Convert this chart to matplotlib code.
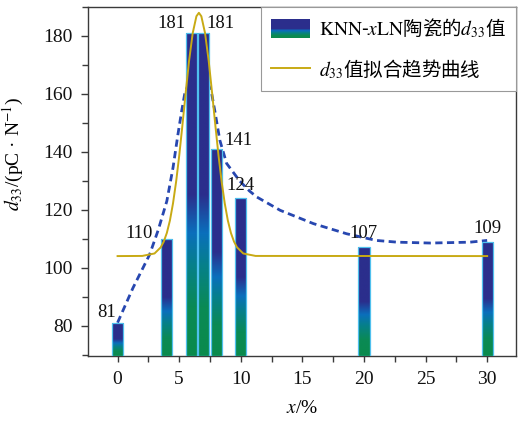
import numpy as np
import matplotlib
matplotlib.use("Agg")
import matplotlib.pyplot as plt
from matplotlib.colors import LinearSegmentedColormap
from matplotlib.patches import Rectangle
from matplotlib.legend_handler import HandlerBase
from matplotlib.lines import Line2D
from matplotlib.ticker import MultipleLocator
from matplotlib.font_manager import FontProperties

plt.rcParams['font.family'] = ['Liberation Serif', 'Noto Sans CJK SC']
plt.rcParams['mathtext.fontset'] = 'stix'

# ---- data ----
x_content = [0, 4, 6, 7, 8, 10, 20, 30]
d33_values = [81, 110, 181, 181, 141, 124, 107, 109]
bar_labels = ['81', '110', '181', '181', '141', '124', '107', '109']

# Gaussian-like fitted trend curve
fit_x = [0, 2, 3, 3.5, 3.75, 4, 4.25, 4.5, 4.75, 5, 5.25, 5.5, 5.8, 6.1, 6.4, 6.6,
         6.8, 7.1, 7.4, 7.7, 7.95, 8.2, 8.45, 8.7, 8.95, 9.2, 9.45, 9.7, 10.2, 11.2, 30]
fit_y = [104.0, 104.05, 104.9, 107.0, 109.0, 112.0, 116.3, 122.2, 129.6, 138.5, 148.6, 159.2,
         171.3, 181.0, 186.8, 188.0, 186.8, 181.0, 171.3, 159.2, 148.6, 138.5, 129.6, 122.2,
         116.3, 112.0, 109.0, 107.0, 104.9, 104.05, 104.0]

# dashed guide curve
trend_x = [0, 1.25, 2.6, 3.3, 4.0, 4.5, 4.9, 5.2, 5.45, 6.5, 7.6, 7.9, 8.3, 8.85, 9.9,
           10.7, 11.3, 13.2, 15.9, 18.6, 21.0, 22.7, 25.4, 28.6, 30]
trend_y = [81, 93, 104.5, 113, 123, 134.5, 146, 154, 160, 172, 161, 154, 144, 136, 130,
           126.5, 124.4, 119.8, 115.2, 111.7, 109.4, 108.8, 108.5, 108.8, 109.4]

x_ticks = [0, 5, 10, 15, 20, 25, 30]
y_ticks = [80, 100, 120, 140, 160, 180]

legend_bar = r"$\mathrm{KNN}$-$x\mathrm{LN}$陶瓷的$d_{33}$值"
legend_fit = r"$d_{33}$值拟合趋势曲线"

# ---- style ----
YMIN, YMAX = 69.5, 190
XMIN, XMAX = -2.4, 32.3
BAR_W = 0.9
navy = '#2B2E8C'
cmap = LinearSegmentedColormap.from_list(
    'bars', [(0.0, '#0A8A4C'), (0.15, '#0A8A55'), (0.28, '#06808A'),
             (0.38, '#0A6FBC'), (0.5, navy), (1.0, navy)])
label_offsets = [(-2, 2, 'right'), (-14, -3.4, 'right'), (-6, 1.5, 'right'), (3, 1.5, 'left'),
                 (8, 0, 'left'), (0, 4.5, 'center'), (0, 5, 'center'), (0, 4.5, 'center')]

fig = plt.figure(figsize=(5.18, 4.21), dpi=100)
ax = fig.add_axes([88 / 518, 1 - 356 / 421, (515.5 - 88) / 518, (356 - 7) / 421])

# dashed guide
ax.plot(trend_x, trend_y, linestyle=(0, (2.6, 1.6)), color='#2747B0', lw=2.0, zorder=2)

grad = np.linspace(0, 1, 256).reshape(-1, 1)
bars = ax.bar(x_content, [v - YMIN for v in d33_values], bottom=YMIN, width=BAR_W,
              facecolor='none', edgecolor='#4FC0EE', linewidth=0.9, zorder=4)
for b in bars:
    x0 = b.get_x()
    w = b.get_width()
    h = b.get_height()
    im = ax.imshow(grad, cmap=cmap, origin='lower', aspect='auto',
                   extent=[x0, x0 + w, YMIN, YMIN + h], zorder=3, interpolation='bilinear')
    im.set_clip_path(b)

# fit curve
ax.plot(fit_x, fit_y, color='#C8AA14', lw=1.4, zorder=5)

# bar labels
for xv, yv, lab, (dx, dy, ha) in zip(x_content, d33_values, bar_labels, label_offsets):
    ax.annotate(lab, (xv, yv), xytext=(dx * 0.72, dy * 0.72), textcoords='offset points',
                ha=ha, va='bottom', fontsize=13.5, color='#111111', zorder=6)

ax.set_xlim(XMIN, XMAX)
ax.set_ylim(YMIN, YMAX)
ax.set_xticks(x_ticks)
ax.set_yticks(y_ticks)
ax.xaxis.set_minor_locator(MultipleLocator(2.5))
ax.yaxis.set_minor_locator(MultipleLocator(10))
ax.tick_params(which='both', direction='out', top=False, right=False,
               color='#3a3a3a', width=1.0, labelsize=14, labelcolor='#111111')
ax.tick_params(axis='x', which='both', length=4.5, pad=6)
ax.tick_params(axis='y', which='major', length=5, pad=6)
ax.tick_params(axis='y', which='minor', length=4)
for s in ax.spines.values():
    s.set_color('#3a3a3a')
    s.set_linewidth(1.0)

ax.set_xlabel(r"$x$/%", fontsize=14)
ax.set_ylabel(r"$d_{33}$/(pC · N$^{-1}$)", fontsize=14)
ax.xaxis.set_label_coords(0.5, -0.125)
ax.yaxis.set_label_coords(-0.145, 0.58)


class HandlerGradient(HandlerBase):
    def create_artists(self, legend, orig_handle, xdescent, ydescent, width, height,
                       fontsize, trans):
        arts = []
        n = 40
        for i in range(n):
            r = Rectangle((-xdescent, -ydescent + height * i / n), width, height / n + 0.3,
                          facecolor=cmap((i + 0.5) / n), edgecolor='none', transform=trans)
            arts.append(r)
        return arts


grad_handle = Rectangle((0, 0), 1, 1)
fit_handle = Line2D([], [], color='#C8AA14', lw=1.4)
leg = ax.legend([grad_handle, fit_handle], [legend_bar, legend_fit],
                handler_map={Rectangle: HandlerGradient()},
                loc='upper right', borderaxespad=0, fancybox=False, framealpha=1,
                edgecolor='#999999', prop=FontProperties(family='Noto Sans CJK SC', size=14),
                handlelength=2.0, handleheight=1.1, handletextpad=0.45,
                labelspacing=0.9, borderpad=0.5)
leg.get_frame().set_linewidth(0.8)
leg.set_zorder(10)

fig.savefig('out.png', dpi=100, facecolor='white')
